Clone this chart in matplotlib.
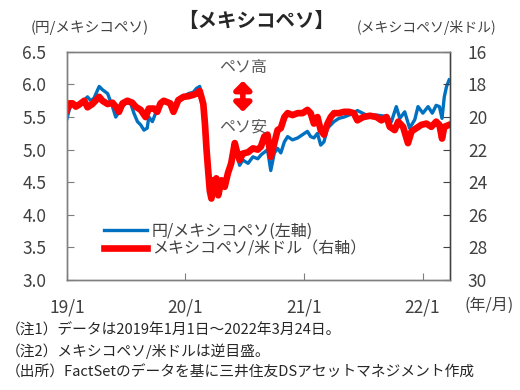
import matplotlib
matplotlib.use("Agg")
import matplotlib.pyplot as plt
import matplotlib.patches as mpatches
import pandas as pd

plt.rcParams["font.family"] = ["Noto Sans CJK JP", "DejaVu Sans"]

# JPY per MXN (left axis)
jpy_dates = [
    "2019-01-01", "2019-01-08", "2019-01-18", "2019-02-07", "2019-02-23", "2019-03-05",
    "2019-03-15", "2019-03-25", "2019-04-10", "2019-04-20", "2019-05-06", "2019-05-21",
    "2019-05-31", "2019-06-10", "2019-06-21", "2019-07-01", "2019-07-16", "2019-07-26",
    "2019-08-06", "2019-08-16", "2019-08-26", "2019-09-05", "2019-09-10", "2019-09-21",
    "2019-10-01", "2019-10-11", "2019-10-26", "2019-11-15", "2019-11-25", "2019-12-10",
    "2019-12-26", "2020-01-10", "2020-01-25", "2020-02-04", "2020-02-14", "2020-02-25",
    "2020-03-01", "2020-03-06", "2020-03-11", "2020-03-16", "2020-03-21", "2020-03-26",
    "2020-03-31", "2020-04-05", "2020-04-11", "2020-04-21", "2020-05-01", "2020-05-11",
    "2020-05-21", "2020-06-01", "2020-06-16", "2020-06-26", "2020-07-12", "2020-07-27",
    "2020-08-11", "2020-08-21", "2020-08-31", "2020-09-10", "2020-09-20", "2020-10-01",
    "2020-10-11", "2020-10-21", "2020-11-01", "2020-11-11", "2020-11-26", "2020-12-12",
    "2020-12-27", "2021-01-11", "2021-01-21", "2021-01-31", "2021-02-11", "2021-02-21",
    "2021-03-03", "2021-03-14", "2021-03-24", "2021-04-03", "2021-04-18", "2021-05-04",
    "2021-05-19", "2021-06-03", "2021-06-14", "2021-07-12", "2021-08-12", "2021-09-12",
    "2021-09-27", "2021-10-12", "2021-10-23", "2021-11-07", "2021-11-22", "2021-12-08",
    "2021-12-18", "2022-01-02", "2022-01-18", "2022-01-31", "2022-02-12", "2022-02-22",
    "2022-03-02", "2022-03-09", "2022-03-16", "2022-03-24",
]
jpy_mxn = [
    5.48, 5.62, 5.71, 5.70, 5.76, 5.81,
    5.75, 5.79, 5.97, 5.92, 5.86, 5.66,
    5.50, 5.58, 5.66, 5.71, 5.71, 5.56,
    5.43, 5.38, 5.30, 5.33, 5.50, 5.43,
    5.56, 5.66, 5.73, 5.71, 5.58, 5.76,
    5.81, 5.86, 5.88, 5.94, 5.97, 5.72,
    5.40, 5.00, 4.68, 4.37, 4.25, 4.53,
    4.40, 4.56, 4.30, 4.53, 4.43, 4.64,
    4.79, 5.05, 4.76, 4.84, 4.79, 4.89,
    4.86, 4.92, 4.96, 5.00, 4.68, 4.95,
    5.02, 4.95, 5.12, 5.20, 5.15, 5.18,
    5.23, 5.28, 5.20, 5.18, 5.25, 5.07,
    5.12, 5.33, 5.38, 5.43, 5.48, 5.50,
    5.53, 5.56, 5.60, 5.53, 5.53, 5.51,
    5.43, 5.66, 5.48, 5.58, 5.33, 5.46,
    5.66, 5.56, 5.66, 5.56, 5.68, 5.66,
    5.48, 5.81, 5.97, 6.07,
]

# MXN per USD (right axis, inverted)
usd_dates = [
    "2019-01-01", "2019-01-08", "2019-01-18", "2019-01-28", "2019-02-07", "2019-02-23",
    "2019-03-05", "2019-03-20", "2019-04-10", "2019-04-20", "2019-05-06", "2019-05-21",
    "2019-05-31", "2019-06-10", "2019-06-21", "2019-07-06", "2019-07-21", "2019-07-31",
    "2019-08-16", "2019-08-31", "2019-09-10", "2019-09-26", "2019-10-06", "2019-10-16",
    "2019-10-26", "2019-11-15", "2019-11-25", "2019-12-10", "2019-12-26", "2020-01-10",
    "2020-01-25", "2020-02-04", "2020-02-14", "2020-02-25", "2020-03-01", "2020-03-06",
    "2020-03-11", "2020-03-16", "2020-03-21", "2020-03-26", "2020-03-31", "2020-04-05",
    "2020-04-11", "2020-04-21", "2020-05-01", "2020-05-11", "2020-05-21", "2020-06-01",
    "2020-06-06", "2020-06-16", "2020-06-26", "2020-07-12", "2020-07-27", "2020-08-11",
    "2020-08-21", "2020-08-31", "2020-09-10", "2020-09-20", "2020-10-01", "2020-10-11",
    "2020-10-21", "2020-11-01", "2020-11-11", "2020-11-26", "2020-12-12", "2020-12-27",
    "2021-01-11", "2021-01-21", "2021-01-31", "2021-02-11", "2021-02-21", "2021-03-03",
    "2021-03-14", "2021-03-24", "2021-04-03", "2021-04-18", "2021-05-04", "2021-05-19",
    "2021-06-03", "2021-06-14", "2021-07-02", "2021-07-23", "2021-08-12", "2021-08-27",
    "2021-09-12", "2021-09-22", "2021-10-07", "2021-10-18", "2021-11-02", "2021-11-17",
    "2021-11-28", "2021-12-13", "2021-12-28", "2022-01-13", "2022-01-28", "2022-02-12",
    "2022-02-22", "2022-03-02", "2022-03-09", "2022-03-24",
]
mxn_usd = [
    19.56, 19.16, 19.16, 19.36, 19.24, 19.00,
    19.40, 19.20, 18.76, 19.00, 19.20, 19.12,
    19.36, 19.68, 19.16, 19.00, 19.12, 19.36,
    19.56, 20.00, 19.48, 19.48, 19.68, 19.16,
    19.00, 19.16, 19.68, 18.96, 18.76, 18.72,
    18.64, 18.56, 18.40, 19.20, 20.40, 22.00,
    23.28, 24.52, 25.00, 23.88, 24.40, 23.76,
    24.80, 23.88, 24.28, 23.44, 22.84, 21.60,
    22.00, 22.64, 22.24, 22.16, 21.92, 22.00,
    21.80, 21.20, 21.08, 22.44, 21.60, 20.80,
    20.68, 20.00, 19.76, 19.88, 19.76, 19.76,
    19.56, 19.76, 20.40, 20.00, 20.80, 21.08,
    20.40, 20.00, 19.76, 19.76, 19.68, 19.68,
    19.76, 20.20, 20.00, 19.92, 20.00, 20.20,
    20.00, 20.60, 20.80, 20.28, 20.60, 21.60,
    20.88, 20.68, 20.48, 20.40, 20.60, 20.28,
    20.48, 21.32, 20.60, 20.48,
]

left_ticks = [3.0, 3.5, 4.0, 4.5, 5.0, 5.5, 6.0, 6.5]
right_ticks = [16, 18, 20, 22, 24, 26, 28, 30]
x_ticks = ["2019-01-01", "2020-01-01", "2021-01-01", "2022-01-01"]
x_labels = ["19/1", "20/1", "21/1", "22/1"]

blue = "#0070C0"
red = "#FF0000"
txt = "#404040"

fig = plt.figure(figsize=(5.2, 3.9), dpi=100)
ax = fig.add_axes([0.129, 0.282, 0.736, 0.585])
ax2 = ax.twinx()

l1, = ax.plot(pd.to_datetime(jpy_dates), jpy_mxn, color=blue, lw=2.4,
              label="円/メキシコペソ(左軸)")
l2, = ax2.plot(pd.to_datetime(usd_dates), mxn_usd, color=red, lw=4.8,
               label="メキシコペソ/米ドル（右軸）")

ax.set_xlim(pd.Timestamp("2019-01-01"), pd.Timestamp("2022-03-26"))
ax.set_ylim(3.0, 6.5)
ax.set_yticks(left_ticks)
ax.set_yticklabels([f"{v:.1f}" for v in left_ticks])
ax2.set_ylim(30, 16)
ax2.set_yticks(right_ticks)
ax.set_xticks(pd.to_datetime(x_ticks))
ax.set_xticklabels(x_labels)

for a in (ax, ax2):
    for s in a.spines.values():
        s.set_color("#7f7f7f")
        s.set_linewidth(1.0)
ax2.spines["right"].set_color("#404040")

ax.tick_params(axis="y", direction="in", length=5, color="#7f7f7f",
               labelsize=12.5, labelcolor=txt, pad=15)
ax.tick_params(axis="x", direction="in", length=5, color="#7f7f7f",
               labelsize=12.5, labelcolor=txt, pad=13)
ax2.tick_params(axis="y", direction="in", length=5, color="#404040",
                labelsize=12.5, labelcolor=txt, pad=13)

fig.text(0.493, 0.945, "【メキシコペソ】", ha="center", va="center",
         fontsize=14, fontweight="bold", color="#262626")
fig.text(0.058, 0.93, "(円/メキシコペソ)", ha="left", va="center",
         fontsize=10.5, color=txt)
fig.text(0.686, 0.93, "(メキシコペソ/米ドル)", ha="left", va="center",
         fontsize=10, color=txt)
fig.text(0.94, 0.218, "(年/月)", ha="center", va="center", fontsize=11.5, color=txt)

# ペソ高 / ペソ安 annotation
fig.text(0.467, 0.826, "ペソ高", ha="center", va="center", fontsize=11.5, color="#595959")
fig.text(0.467, 0.674, "ペソ安", ha="center", va="center", fontsize=11.5, color="#595959")
fig.patches.append(mpatches.FancyArrowPatch(
    (0.467, 0.800), (0.467, 0.706), transform=fig.transFigure,
    arrowstyle="<|-|>,head_length=5,head_width=5", color=red, lw=4))

ax.legend([l1, l2], [l1.get_label(), l2.get_label()], loc="lower left",
          bbox_to_anchor=(0.08, 0.07), frameon=False, fontsize=11.5,
          handlelength=2.7, labelcolor=txt, borderaxespad=0, handletextpad=0.3,
          labelspacing=0.05)

notes = [
    "（注1）データは2019年1月1日～2022年3月24日。",
    "（注2）メキシコペソ/米ドルは逆目盛。",
    "（出所）FactSetのデータを基に三井住友DSアセットマネジメント作成",
]
for i, n in enumerate(notes):
    fig.text(0.012, 0.152 - i * 0.053, n, ha="left", va="center", fontsize=10.6, color="#262626")

fig.savefig("out.png", dpi=100)
